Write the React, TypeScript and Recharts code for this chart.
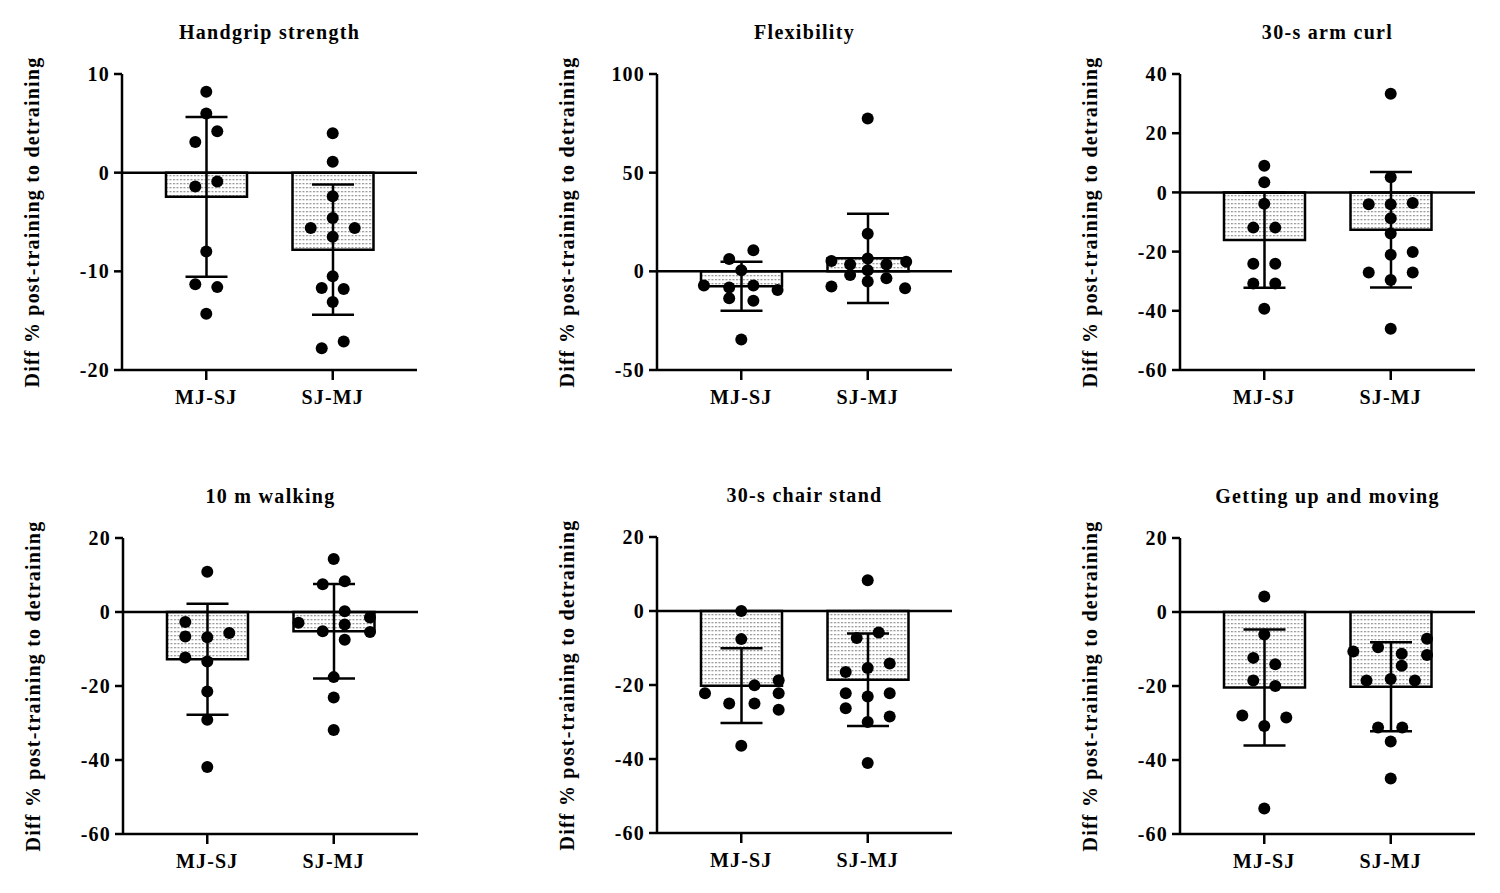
import {
  ComposedChart,
  Bar,
  ErrorBar,
  Scatter,
  XAxis,
  YAxis,
  ReferenceLine,
} from 'recharts';

const groups = ['MJ-SJ', 'SJ-MJ'];

// Handgrip strength
const handgripMean = [-2.45, -7.8];
const handgripSd = [8.1, 6.6];
const handgripA = [8.2, 6.0, 4.2, 3.1, -1.4, -0.9, -8.0, -11.3, -11.6, -14.3];
const handgripALane = [0, 0, 1, -1, -1, 1, 0, -1, 1, 0];
const handgripB = [4.0, 1.1, -2.4, -4.6, -5.6, -5.6, -6.5, -10.5, -11.7, -11.8, -13.1, -17.1, -17.8];
const handgripBLane = [0, 0, 0, 0, -2, 2, 0, 0, -1, 1, 0, 1, -1];

// Flexibility
const flexMean = [-7.6, 6.6];
const flexSd = [12.4, 22.6];
const flexA = [10.7, 6.2, 0.6, -7.2, -8.2, -7.2, -9.4, -13.6, -14.9, -34.5];
const flexALane = [1.1, -1.1, 0, -3.4, -1.1, 1.1, 3.3, -1.1, 1.1, 0];
const flexB = [77.5, 19.1, 6.5, 5.2, 3.5, 3.5, 4.9, 0.6, -1.8, -3.5, -5.2, -7.7, -8.6];
const flexBLane = [0, 0, 0, -3.3, -1.6, 1.7, 3.5, 0, -1.6, 1.7, 0, -3.3, 3.4];

// 30-s arm curl
const armMean = [-16.1, -12.6];
const armSd = [16.1, 19.5];
const armA = [9.0, 3.4, -3.8, -11.9, -11.9, -24.1, -24.1, -30.8, -30.8, -39.3];
const armALane = [0, 0, 0, -1, 1, -1, 1, -1, 1, 0];
const armB = [33.3, 5.1, -4.0, -4.0, -3.6, -8.7, -13.9, -21.1, -20.1, -27.1, -27.1, -29.6, -46.1];
const armBLane = [0, 0, -2, 0, 2, 0, 0, 0, 2, -2, 2, 0, 0];

// 10 m walking
const walkMean = [-12.8, -5.2];
const walkSd = [15.0, 12.8];
const walkA = [10.9, -2.7, -6.6, -6.8, -5.7, -12.3, -13.4, -21.5, -29.1, -41.9];
const walkALane = [0, -2, -2, 0, 2, -2, 0, 0, 0, 0];
const walkB = [14.3, 7.5, 8.3, 0.2, -2.9, -1.5, -3.4, -5.2, -5.4, -7.5, -17.6, -23.1, -31.9];
const walkBLane = [0, -1, 1, 1, -3.2, 3.3, 1, -1, 3.3, 1, 0, 0, 0];

// 30-s chair stand
const chairMean = [-20.2, -18.6];
const chairSd = [10.1, 12.5];
const chairA = [0, -7.6, -20.1, -18.7, -22.2, -22.2, -25.0, -25.0, -26.7, -36.4];
const chairALane = [0, 0, 1.2, 3.4, -3.3, 3.4, -1.1, 1.2, 3.4, 0];
const chairB = [8.3, -7.3, -5.8, -14.2, -16.5, -15.4, -22.2, -23.1, -22.2, -26.3, -28.5, -30.0, -41.1];
const chairBLane = [0, -1, 1, 2, -2, 0, -2, 0, 2, -2, 2, 0, 0];

// Getting up and moving
const tugMean = [-20.4, -20.2];
const tugSd = [15.7, 12.0];
const tugA = [4.2, -6.1, -12.4, -14.1, -18.5, -20.0, -28.0, -28.5, -30.8, -53.1];
const tugALane = [0, 0, -1, 1, -1, 1, -2, 2, 0, 0];
const tugB = [-7.2, -9.5, -10.7, -11.6, -11.3, -14.5, -18.5, -18.1, -18.5, -31.2, -31.2, -35.0, -45.0];
const tugBLane = [3.3, -1.15, -3.4, 3.3, 1, 1, -2.2, 0, 2.2, -1.15, 1.05, 0, 0];

const ticksHandgrip = [-20, -10, 0, 10];
const ticksFlex = [-50, 0, 50, 100];
const ticksArm = [-60, -40, -20, 0, 20, 40];
const ticksLower = [-60, -40, -20, 0, 20];

const yLabel = 'Diff % post-training to detraining';

const FONT = '"Liberation Serif", "Times New Roman", serif';
const PLOT_W = 295;
const PLOT_H = 296;
const LEFT = 110;
const TOP = 60;
const RIGHT = 15;
const BOTTOM = 50;
const LANE = 11 / 126.5; // one dot column, in category units

const textStyle = { fill: '#000', fontSize: 20, fontWeight: 700, fontFamily: FONT, letterSpacing: 1.2 };

interface PanelProps {
  id: string;
  title: string;
  domain: [number, number];
  ticks: number[];
  means: number[];
  sds: number[];
  a: number[];
  aLane: number[];
  b: number[];
  bLane: number[];
  left: number;
  top: number;
}

function Panel({ id, title, domain, ticks, means, sds, a, aLane, b, bLane, left, top }: PanelProps) {
  const barData = groups.map((g, i) => ({ name: g, mean: means[i], sd: sds[i] }));
  const dots = [
    ...a.map((v, i) => ({ x: 0 + aLane[i] * LANE, y: v })),
    ...b.map((v, i) => ({ x: 1 + bLane[i] * LANE, y: v })),
  ];

  return (
    <div style={{ position: 'absolute', left: left - LEFT, top: top - TOP }}>
      <div
        style={{
          position: 'absolute',
          left: LEFT,
          width: PLOT_W,
          top: TOP - 42 - 12,
          lineHeight: '24px',
          textAlign: 'center',
          fontFamily: FONT,
          fontWeight: 700,
          fontSize: 20,
          letterSpacing: 1.3,
          color: '#000',
        }}
      >
        {title}
      </div>
      <ComposedChart
        width={LEFT + PLOT_W + RIGHT}
        height={TOP + PLOT_H + BOTTOM}
        data={barData}
        margin={{ top: TOP, right: RIGHT, bottom: 0, left: 0 }}
      >
        <defs>
          <pattern id={id} patternUnits="userSpaceOnUse" width={3.5} height={4}>
            <rect width={3.5} height={4} fill="#fff" />
            <rect x={0} y={1} width={2} height={1.3} fill="#9a9a9a" />
          </pattern>
        </defs>
        <XAxis
          xAxisId="cat"
          dataKey="name"
          type="category"
          padding={{ left: 21, right: 21 }}
          height={BOTTOM}
          tickSize={10}
          tickMargin={10}
          axisLine={{ stroke: '#000', strokeWidth: 2.5 }}
          tickLine={{ stroke: '#000', strokeWidth: 2.5 }}
          tick={textStyle}
        />
        <XAxis xAxisId="num" dataKey="x" type="number" domain={[-2 / 3, 5 / 3]} allowDataOverflow hide />
        <YAxis
          domain={domain}
          ticks={ticks}
          interval={0}
          width={LEFT}
          tickSize={8}
          tickMargin={4}
          axisLine={{ stroke: '#000', strokeWidth: 2.5 }}
          tickLine={{ stroke: '#000', strokeWidth: 2.5 }}
          tick={textStyle}
          label={{
            value: yLabel,
            angle: -90,
            position: 'insideLeft',
            offset: 20,
            style: { textAnchor: 'middle' },
            ...textStyle,
          }}
        />
        <ReferenceLine y={0} xAxisId="num" stroke="#000" strokeWidth={2.5} />
        <Bar
          xAxisId="cat"
          dataKey="mean"
          barSize={81}
          fill={`url(#${id})`}
          stroke="#000"
          strokeWidth={2.5}
          isAnimationActive={false}
        >
          <ErrorBar dataKey="sd" width={21} stroke="#000" strokeWidth={2.5} direction="y" />
        </Bar>
        <Scatter
          xAxisId="num"
          data={dots}
          dataKey="y"
          isAnimationActive={false}
          shape={(p: any) => <circle cx={p.cx} cy={p.cy} r={6} fill="#000" />}
        />
      </ComposedChart>
    </div>
  );
}

export default function App() {
  return (
    <div style={{ position: 'absolute', left: 0, top: 0, width: 1500, height: 893, background: '#fff' }}>
      <Panel id="p1" title="Handgrip strength" domain={[-20, 10]} ticks={ticksHandgrip}
        means={handgripMean} sds={handgripSd} a={handgripA} aLane={handgripALane} b={handgripB} bLane={handgripBLane}
        left={122} top={74} />
      <Panel id="p2" title="Flexibility" domain={[-50, 100]} ticks={ticksFlex}
        means={flexMean} sds={flexSd} a={flexA} aLane={flexALane} b={flexB} bLane={flexBLane}
        left={657} top={74} />
      <Panel id="p3" title="30-s arm curl" domain={[-60, 40]} ticks={ticksArm}
        means={armMean} sds={armSd} a={armA} aLane={armALane} b={armB} bLane={armBLane}
        left={1180} top={74} />
      <Panel id="p4" title="10 m walking" domain={[-60, 20]} ticks={ticksLower}
        means={walkMean} sds={walkSd} a={walkA} aLane={walkALane} b={walkB} bLane={walkBLane}
        left={123} top={538} />
      <Panel id="p5" title="30-s chair stand" domain={[-60, 20]} ticks={ticksLower}
        means={chairMean} sds={chairSd} a={chairA} aLane={chairALane} b={chairB} bLane={chairBLane}
        left={657} top={537} />
      <Panel id="p6" title="Getting up and moving" domain={[-60, 20]} ticks={ticksLower}
        means={tugMean} sds={tugSd} a={tugA} aLane={tugALane} b={tugB} bLane={tugBLane}
        left={1180} top={538} />
    </div>
  );
}
